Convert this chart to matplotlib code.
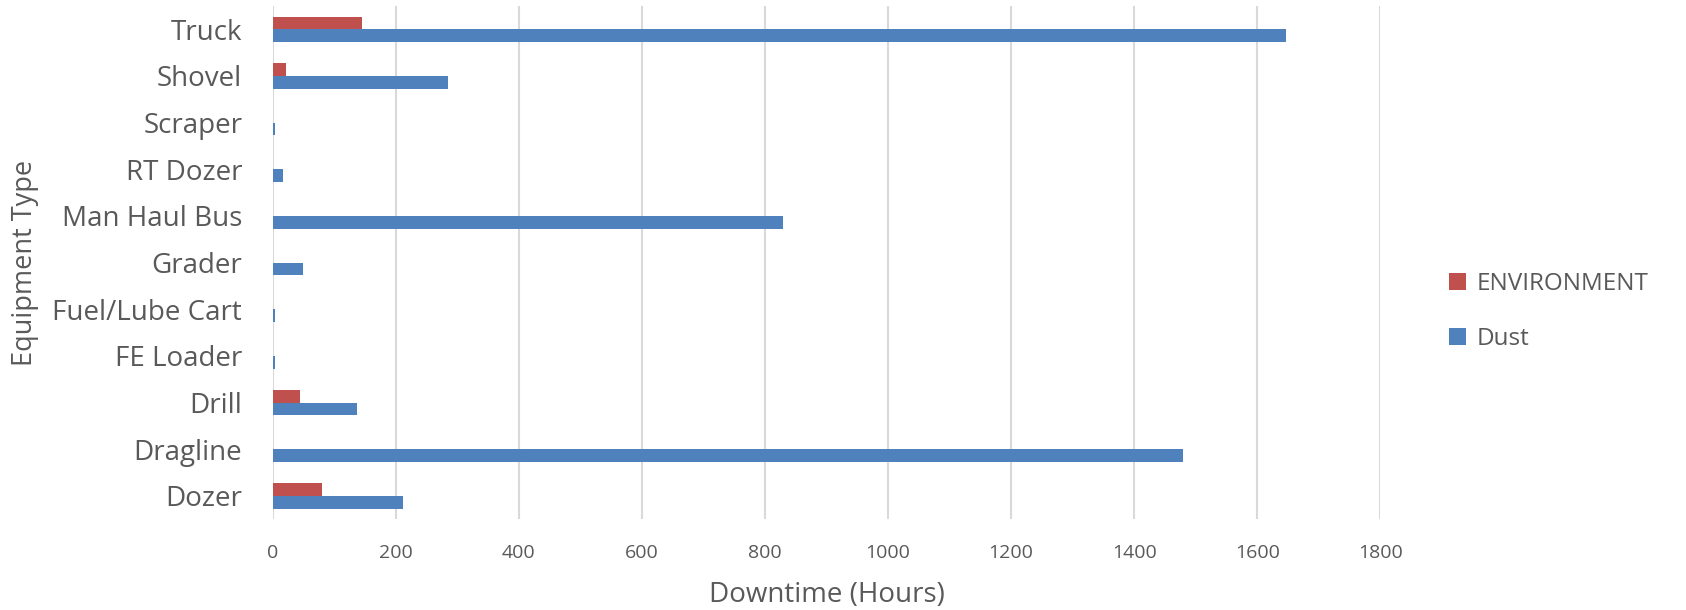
import matplotlib
matplotlib.use("Agg")
import matplotlib.pyplot as plt
import numpy as np

plt.rcParams['font.family'] = ['Open Sans', 'DejaVu Sans']

# Equipment categories, bottom to top
equipment = ["Dozer", "Dragline", "Drill", "FE Loader", "Fuel/Lube Cart", "Grader",
             "Man Haul Bus", "RT Dozer", "Scraper", "Shovel", "Truck"]
environment_hours = [80, 0, 45, 0, 0, 0, 0, 0, 0, 22, 145]
dust_hours = [212, 1480, 137, 3, 4, 50, 830, 16, 3, 285, 1647]
x_ticks = [0, 200, 400, 600, 800, 1000, 1200, 1400, 1600, 1800]

RED = "#C0504D"
BLUE = "#4F81BD"
TEXT = "#595959"
GRID = "#D9D9D9"

W, H = 1686, 610
fig = plt.figure(figsize=(W / 100, H / 100), dpi=100)
left, right, top, bottom = 272.7, 1380.3, 6, 519.3
ax = fig.add_axes([left / W, 1 - bottom / H, (right - left) / W, (bottom - top) / H])

y = np.arange(len(equipment))
bh = 0.27
ax.barh(y + bh / 2, environment_hours, height=bh, color=RED, label="ENVIRONMENT", zorder=3)
ax.barh(y - bh / 2, dust_hours, height=bh, color=BLUE, label="Dust", zorder=3)

ax.set_xlim(0, 1800)
ax.set_ylim(-0.5, len(equipment) - 0.5)
ax.set_xticks(x_ticks)
ax.set_xticklabels([str(t) for t in x_ticks])
ax.set_yticks(y)
ax.set_yticklabels(equipment)
ax.grid(axis="x", color=GRID, linewidth=1.5, zorder=0)
ax.grid(axis="y", visible=False)
for s in ax.spines.values():
    s.set_visible(False)
ax.tick_params(axis="y", length=0, pad=22, labelsize=20, labelcolor=TEXT)
ax.tick_params(axis="x", length=0, pad=18, labelsize=14, labelcolor=TEXT)

ax.set_xlabel("Downtime (Hours)", fontsize=20, color=TEXT)
ax.xaxis.label.set_va("center")
ax.xaxis.set_label_coords(0.5, -(595 - bottom) / (bottom - top))

fig.text(25 / W, 1 - ((top + bottom) / 2) / H, "Equipment Type", rotation=90,
         fontsize=19.5, color=TEXT, ha="center", va="center")

handles, labels = ax.get_legend_handles_labels()
leg = fig.legend(handles, labels, loc="center left",
                 bbox_to_anchor=(1449 / W, 1 - 311.5 / H), frameon=False,
                 fontsize=17.5, handlelength=0.7, handleheight=0.7,
                 handletextpad=0.45, labelspacing=1.25, borderpad=0, borderaxespad=0)
for t in leg.get_texts():
    t.set_color(TEXT)

fig.savefig("out.png", dpi=100)
